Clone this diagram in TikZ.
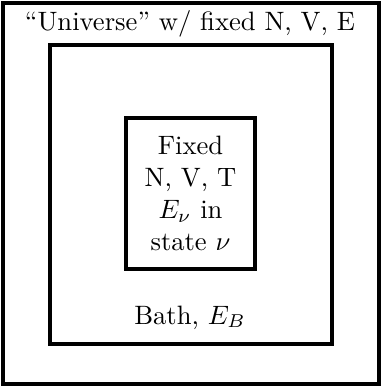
\documentclass[tikz,border=0pt]{standalone}
\usepackage{amsmath}
\usepackage{tikz}
\usetikzlibrary{positioning}
\newcommand{\pxu}{0.376pt}
\begin{document}
\begin{tikzpicture}[
  x=\pxu, y=-\pxu,
  wall/.style={draw=black, line width=1.2pt, inner sep=0pt},
  label/.style={align=center, inner sep=0pt},
]
  \useasboundingbox (0,0) rectangle (382,387);

  % Boxes
  \node[wall, minimum width={376*\pxu}, minimum height={381*\pxu}] (universe) at (191,193.5) {};
  \node[wall, minimum width={282*\pxu}, minimum height={299*\pxu}] (bath) at (191,194.5) {};
  \node[wall, minimum width={129*\pxu}, minimum height={151*\pxu}] (system) at (190.5,193.5) {};

  % Labels
  \node[label, anchor=base] (universetext) at (190,31) {``Universe'' w/ fixed N, V, E};
  \node[label, anchor=base] (bathtext) at (190,324) {Bath, $E_B$};
  \node[label] (systemtext) at (system.center) {Fixed\\N, V, T\\$E_\nu$ in\\state $\nu$};
\end{tikzpicture}
\end{document}
